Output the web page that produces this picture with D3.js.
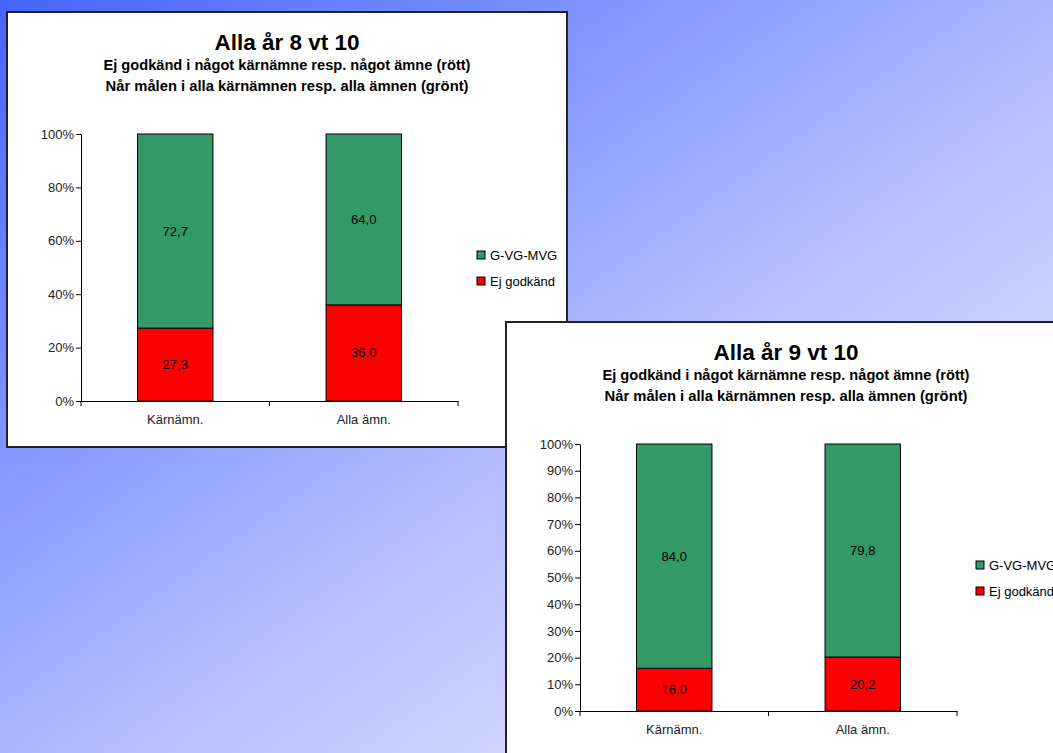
<!DOCTYPE html>
<html>
<head>
<meta charset="utf-8">
<script src="https://cdn.jsdelivr.net/npm/d3@7"></script>
<style>
  html, body { margin: 0; padding: 0; overflow: hidden; }
  body { width: 1053px; height: 753px; }
  text { font-family: "Liberation Sans", Arial, sans-serif; }
</style>
</head>
<body>
<svg id="root" width="1053" height="753"></svg>
<script>
// ---- data ----
const categories = ["Kärnämn.", "Alla ämn."];
const seriesNames = ["Ej godkänd", "G-VG-MVG"];
const chart1Title = "Alla år 8 vt 10";
const chart1Red = [27.3, 36.0];
const chart1Green = [72.7, 64.0];
const chart1Ticks = [0, 20, 40, 60, 80, 100];
const chart2Title = "Alla år 9 vt 10";
const chart2Red = [16.0, 20.2];
const chart2Green = [84.0, 79.8];
const chart2Ticks = [0, 10, 20, 30, 40, 50, 60, 70, 80, 90, 100];
const subtitle1 = "Ej godkänd i något kärnämne resp. något ämne (rött)";
const subtitle2 = "Når målen i alla kärnämnen resp. alla ämnen (grönt)";

const colors = { "Ej godkänd": "#ff0000", "G-VG-MVG": "#339966" };

const svg = d3.select("#root");

// background gradient
const defs = svg.append("defs");
const grad = defs.append("linearGradient").attr("id", "bg")
  .attr("x1", "0").attr("y1", "0").attr("x2", "1").attr("y2", "1");
grad.append("stop").attr("offset", "0%").attr("stop-color", "#4466ff");
grad.append("stop").attr("offset", "55%").attr("stop-color", "#b4bdff");
grad.append("stop").attr("offset", "100%").attr("stop-color", "#f4f4ff");
svg.append("rect").attr("width", 1053).attr("height", 753).attr("fill", "url(#bg)");

const fmt = v => d3.format(".1f")(v).replace(".", ",");

function drawChart(x0, y0, w, h, title, red, green, ticks) {
  const g = svg.append("g").attr("transform", `translate(${x0},${y0})`);
  g.append("rect").attr("x", 0).attr("y", 0).attr("width", w).attr("height", h)
    .attr("fill", "#fff").attr("stroke", "#222").attr("stroke-width", 2);

  g.append("text").attr("x", 280).attr("y", 37.5).attr("text-anchor", "middle")
    .attr("font-size", 22.5).attr("font-weight", "bold").attr("fill", "#000").text(title);
  g.append("text").attr("x", 280).attr("y", 58).attr("text-anchor", "middle")
    .attr("font-size", 14).attr("font-weight", "bold").attr("fill", "#000")
    .attr("textLength", 367).attr("lengthAdjust", "spacingAndGlyphs").text(subtitle1);
  g.append("text").attr("x", 280).attr("y", 79).attr("text-anchor", "middle")
    .attr("font-size", 14).attr("font-weight", "bold").attr("fill", "#000")
    .attr("textLength", 363).attr("lengthAdjust", "spacingAndGlyphs").text(subtitle2);

  const left = 74, right = 451, top = 122, bottom = 389;
  const x = d3.scaleBand().domain(categories).range([left, right]).paddingInner(0.6).paddingOuter(0.3);
  const xb = d3.scaleBand().domain(categories).range([left, right]);
  const y = d3.scaleLinear().domain([0, 100]).range([bottom, top]);

  // stacked data
  const rows = categories.map((c, i) => ({ cat: c, "Ej godkänd": red[i], "G-VG-MVG": green[i] }));
  const stack = d3.stack().keys(seriesNames)(rows);

  const layers = g.selectAll("g.layer").data(stack).join("g").attr("class", "layer")
    .attr("fill", d => colors[d.key]);
  layers.selectAll("rect").data(d => d).join("rect")
    .attr("x", d => x(d.data.cat))
    .attr("width", x.bandwidth())
    .attr("y", d => y(d[1]))
    .attr("height", d => y(d[0]) - y(d[1]))
    .attr("stroke", "#000").attr("stroke-width", 1);
  layers.selectAll("text").data(d => d.map(v => ({ v, key: d.key }))).join("text")
    .attr("x", d => x(d.v.data.cat) + x.bandwidth() / 2)
    .attr("y", d => (y(d.v[0]) + y(d.v[1])) / 2 + 4.5)
    .attr("text-anchor", "middle").attr("font-size", 13).attr("fill", "#000")
    .text(d => fmt(d.v.data[d.key]));

  // y axis
  const ya = g.append("g").attr("transform", `translate(${left},0)`)
    .call(d3.axisLeft(y).tickValues(ticks).tickFormat(d => d + "%").tickSize(5).tickSizeOuter(0));
  ya.select(".domain").attr("stroke", "#000");
  ya.selectAll(".tick line").attr("stroke", "#000");
  ya.selectAll(".tick text").attr("font-size", 13).attr("fill", "#222")
    .attr("font-family", "Liberation Sans, Arial, sans-serif").attr("x", -7);

  // x axis
  const xa = g.append("g").attr("transform", `translate(0,${bottom})`)
    .call(d3.axisBottom(xb).tickSize(0).tickSizeOuter(0));
  xa.select(".domain").attr("stroke", "#000");
  xa.selectAll(".tick text").attr("font-size", 13).attr("fill", "#222")
    .attr("font-family", "Liberation Sans, Arial, sans-serif").attr("dy", "1.55em");
  // category boundary ticks
  const bounds = [left].concat(categories.map(c => xb(c) + xb.bandwidth()));
  xa.selectAll("line.bt").data(bounds).join("line").attr("class", "bt")
    .attr("x1", d => d).attr("x2", d => d).attr("y1", 0).attr("y2", 5).attr("stroke", "#000");

  // legend
  const legendItems = seriesNames.slice().reverse();
  const lg = g.append("g").attr("transform", "translate(470,239)");
  const li = lg.selectAll("g").data(legendItems).join("g")
    .attr("transform", (d, i) => `translate(0,${i * 26})`);
  li.append("rect").attr("x", 0).attr("y", 0).attr("width", 8).attr("height", 8)
    .attr("fill", d => colors[d]).attr("stroke", "#000").attr("stroke-width", 1);
  li.append("text").attr("x", 13).attr("y", 9).attr("font-size", 13).attr("fill", "#000").text(d => d);
}

drawChart(7, 12, 560, 435, chart1Title, chart1Red, chart1Green, chart1Ticks);
drawChart(506, 322, 580, 460, chart2Title, chart2Red, chart2Green, chart2Ticks);
</script>
</body>
</html>
